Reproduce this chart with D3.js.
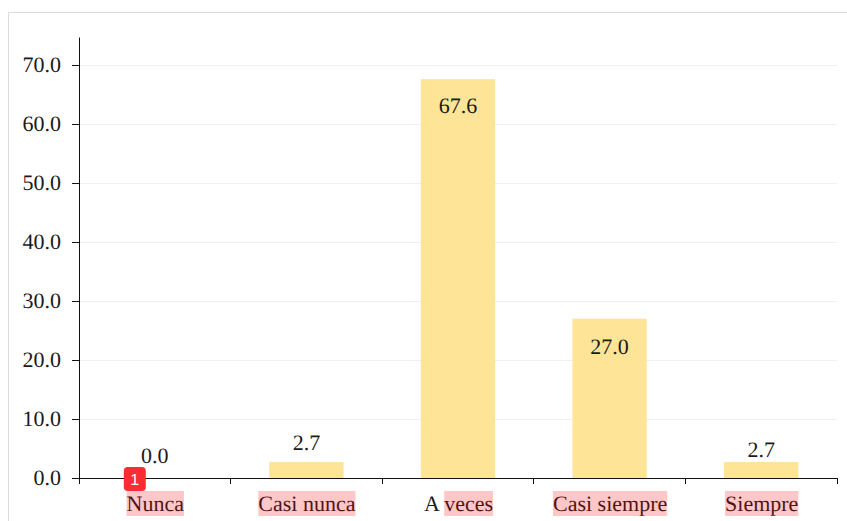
<!DOCTYPE html>
<html><head><meta charset="utf-8">
<script src="https://cdn.jsdelivr.net/npm/d3@7/dist/d3.min.js"></script>
<style>html,body{margin:0;padding:0;background:#fff}svg{display:block}text{font-family:"Liberation Serif",serif;fill:#1a1a1a;text-rendering:geometricPrecision}</style>
</head><body><svg id="c" width="847" height="521"></svg>
<script>
const categories = ["Nunca","Casi nunca","A veces","Casi siempre","Siempre"];
const values = [0.0,2.7,67.6,27.0,2.7];
const yTicks = [0,10,20,30,40,50,60,70];
const highlightSkip = ["","","A ","",""];
const badgeLabel = "1";

const W=847,H=521,m={l:79,r:10,t:37,b:43};
const svg=d3.select("#c");
svg.append("path").attr("d",`M8.5,${H}V12.5H${W}`).attr("fill","none").attr("stroke","#dcdcdc").attr("stroke-width",1);
const x=d3.scaleBand().domain(categories).range([m.l,W-m.r]).paddingInner(0).paddingOuter(0);
const y=d3.scaleLinear().domain([0,74.75]).range([H-m.b,m.t]);
const barW=x.bandwidth()*0.49;
const fs=22;
// label offset above/below each bar top, per bar, as laid out in the original
const labelGap=[15,12,34,35,5];

svg.append("g").selectAll("line").data(yTicks.filter(d=>d>0)).join("line")
 .attr("x1",m.l).attr("x2",W-m.r).attr("y1",d=>Math.round(y(d))+.5).attr("y2",d=>Math.round(y(d))+.5)
 .attr("stroke","#efefef");

svg.append("g").selectAll("rect").data(values).join("rect")
 .attr("x",(d,i)=>x(categories[i])+(x.bandwidth()-barW)/2).attr("width",barW)
 .attr("y",d=>y(d)).attr("height",d=>y(0)-y(d)).attr("fill","#fee497");

const ya=d3.axisLeft(y).tickValues(yTicks).tickFormat(d3.format(".1f")).tickSize(7).tickSizeOuter(0).tickPadding(11);
const gy=svg.append("g").attr("transform",`translate(${m.l},0)`).call(ya);
gy.selectAll("text").attr("dy","0.28em");
const xa=d3.axisBottom(x).tickFormat(d=>d).tickSize(0).tickPadding(17);
const gx=svg.append("g").attr("transform",`translate(0.5,${y(0)})`).call(xa);
[gy,gx].forEach(g=>{g.selectAll("text").style("font-family",'"Liberation Serif",serif').style("font-size",fs+"px").attr("fill","#1a1a1a");
 g.selectAll("path,line").attr("stroke","#111");});
gx.selectAll(".tick line").remove();
svg.append("g").selectAll("line").data(d3.range(categories.length+1)).join("line")
 .attr("x1",i=>Math.floor(m.l+i*x.step())+.5).attr("x2",i=>Math.floor(m.l+i*x.step())+.5)
 .attr("y1",y(0)).attr("y2",y(0)+6).attr("stroke","#111");

svg.append("g").selectAll("text").data(values).join("text")
 .attr("x",(d,i)=>x(categories[i])+x.bandwidth()/2)
 .attr("y",(d,i)=>d>10?y(d)+labelGap[i]:y(d)-labelGap[i])
 .attr("text-anchor","middle").attr("font-size",fs).text(d=>d3.format(".1f")(d));

gx.selectAll(".tick text").each(function(d,i){
 const n=highlightSkip[i].length;
 const len=this.getComputedTextLength();
 const start=this.getStartPositionOfChar(0).x;
 const off=n?this.getSubStringLength(0,n):0;
 const t=this.parentNode.transform.baseVal.consolidate().matrix.e+0.5;
 svg.append("rect").attr("x",t+start+off).attr("width",len-off)
  .attr("y",491).attr("height",25).attr("fill","#ff0000").attr("fill-opacity",.22);
});

const bx=x(categories[0])+x.bandwidth()/2-31;
svg.append("rect").attr("x",bx).attr("y",467).attr("width",22).attr("height",24).attr("rx",4).attr("fill","#fb2c36");
svg.append("text").attr("x",bx+11).attr("y",485).attr("text-anchor","middle")
 .style("font-family",'"Liberation Sans",sans-serif').style("fill","#fff").attr("font-size",16).text(badgeLabel);
</script></body></html>
